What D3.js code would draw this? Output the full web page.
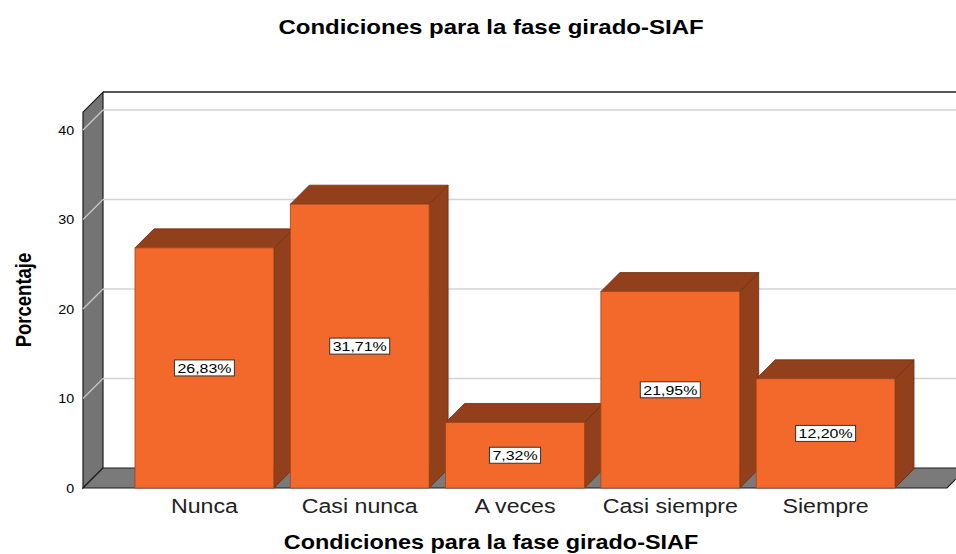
<!DOCTYPE html>
<html>
<head>
<meta charset="utf-8">
<script src="https://cdn.jsdelivr.net/npm/d3@7"></script>
<style>
body { margin:0; background:#fff; }
text { font-family: "Liberation Sans", Arial, sans-serif; }
</style>
</head>
<body>
<svg id="chart" width="956" height="554"></svg>
<script>
var categories = ["Nunca", "Casi nunca", "A veces", "Casi siempre", "Siempre"];
var values = [26.83, 31.71, 7.32, 21.95, 12.20];
var valueLabels = ["26,83%", "31,71%", "7,32%", "21,95%", "12,20%"];
var yTicks = [0, 10, 20, 30, 40];

var svg = d3.select("#chart");

var depth = 20;      // depth of walls
var barDepth = 19;   // depth of bars
var left = 83, right = 947;
var floorY = 488;

var y = d3.scaleLinear().domain([0, 40]).range([floorY, 130]);
var yTop = 42;

var x = d3.scaleBand()
    .domain(categories)
    .range([135, 895])
    .paddingInner(0.106)
    .paddingOuter(0);

function pts(a) { return a.map(function(p){ return p.join(","); }).join(" "); }

// back wall
svg.append("rect")
    .attr("x", left + depth).attr("y", y(yTop) - depth)
    .attr("width", right - left).attr("height", y(0) - y(yTop))
    .style("fill", "#fff");

// grid lines on back wall and left wall
var grid = svg.append("g");
yTicks.filter(function(d){ return d > 0; }).forEach(function(t){
    grid.append("line")
        .attr("x1", left + depth).attr("x2", right + depth)
        .attr("y1", y(t) - depth).attr("y2", y(t) - depth)
        .style("stroke", "#d4d4d4").style("stroke-width", 1.5);
});

// left wall
svg.append("polygon")
    .attr("points", pts([[left, y(yTop)], [left + depth, y(yTop) - depth], [left + depth, y(0) - depth], [left, y(0)]]))
    .style("fill", "#747474")
    .style("stroke", "#1e1e1e").style("stroke-width", 1.2);

yTicks.filter(function(d){ return d > 0; }).forEach(function(t){
    grid.append("line")
        .attr("x1", left).attr("x2", left + depth)
        .attr("y1", y(t)).attr("y2", y(t) - depth)
        .style("stroke", "#c8c8c8").style("stroke-width", 1.2);
});
grid.raise();

// floor
svg.append("polygon")
    .attr("points", pts([[left, y(0)], [left + depth, y(0) - depth], [right + depth, y(0) - depth], [right, y(0)]]))
    .style("fill", "#7a7a7a")
    .style("stroke", "#1e1e1e").style("stroke-width", 1.2);

// top frame line of back wall
svg.append("line")
    .attr("x1", left + depth).attr("x2", right + depth)
    .attr("y1", y(yTop) - depth).attr("y2", y(yTop) - depth)
    .style("stroke", "#1e1e1e").style("stroke-width", 1.5);

// y axis labels
var yAxis = svg.append("g")
    .attr("transform", "translate(" + left + ",0)")
    .call(d3.axisLeft(y).tickValues(yTicks).tickSize(0).tickPadding(8).tickFormat(d3.format("d")));
yAxis.select(".domain").remove();
yAxis.selectAll("text")
    .style("font-size", "13px")
    .style("fill", "#000")
    .attr("transform", "scale(1.1,1)");

// bars
var bars = svg.selectAll(".bar")
    .data(values)
    .enter().append("g").attr("class", "bar");

bars.each(function(v, i){
    var g = d3.select(this);
    var x0 = x(categories[i]);
    var x1 = x0 + x.bandwidth();
    var yt = y(v), yb = y(0);
    var d = barDepth;

    g.append("polygon")
        .attr("points", pts([[x1, yt], [x1 + d, yt - d], [x1 + d, yb - d], [x1, yb]]))
        .style("fill", "#923f1b").style("stroke", "#6e2c10").style("stroke-width", 0.8);
    g.append("polygon")
        .attr("points", pts([[x0, yt], [x0 + d, yt - d], [x1 + d, yt - d], [x1, yt]]))
        .style("fill", "#923f1b").style("stroke", "#6e2c10").style("stroke-width", 0.8);
    g.append("rect")
        .attr("x", x0).attr("y", yt)
        .attr("width", x.bandwidth()).attr("height", yb - yt)
        .style("fill", "#f2692b").style("stroke", "#a2441a").style("stroke-width", 0.8);
});

// value labels
bars.each(function(v, i){
    var g = d3.select(this);
    var cx = x(categories[i]) + x.bandwidth() / 2;
    var cy = y(v / 2);
    var lab = g.append("g").attr("transform", "translate(" + cx + "," + cy + ")");
    var rect = lab.append("rect").style("fill", "#fff").style("stroke", "#333").style("stroke-width", 1);
    var t = lab.append("text")
        .attr("text-anchor", "middle")
        .attr("dy", "0.35em")
        .attr("transform", "scale(1.18,1)")
        .style("font-size", "13.5px")
        .text(valueLabels[i]);
    var w = t.node().getComputedTextLength() * 1.18;
    rect.attr("x", -w / 2 - 3).attr("y", -8).attr("width", w + 6).attr("height", 16);
});

// category labels
categories.forEach(function(c){
    svg.append("text")
        .attr("text-anchor", "middle")
        .attr("transform", "translate(" + (x(c) + x.bandwidth() / 2) + ",513) scale(1.16,1)")
        .style("font-size", "20px")
        .style("fill", "#222")
        .text(c);
});

// titles
svg.append("text")
    .attr("text-anchor", "middle")
    .attr("transform", "translate(491,34) scale(1.2,1)")
    .style("font-size", "20px").style("font-weight", "bold")
    .text("Condiciones para la fase girado-SIAF");

svg.append("text")
    .attr("text-anchor", "middle")
    .attr("transform", "translate(491,549) scale(1.2,1)")
    .style("font-size", "19.5px").style("font-weight", "bold")
    .text("Condiciones para la fase girado-SIAF");

svg.append("text")
    .attr("text-anchor", "middle")
    .attr("transform", "translate(31,300) rotate(-90) scale(1,1.2)")
    .style("font-size", "18.5px").style("font-weight", "bold")
    .text("Porcentaje");
</script>
</body>
</html>
